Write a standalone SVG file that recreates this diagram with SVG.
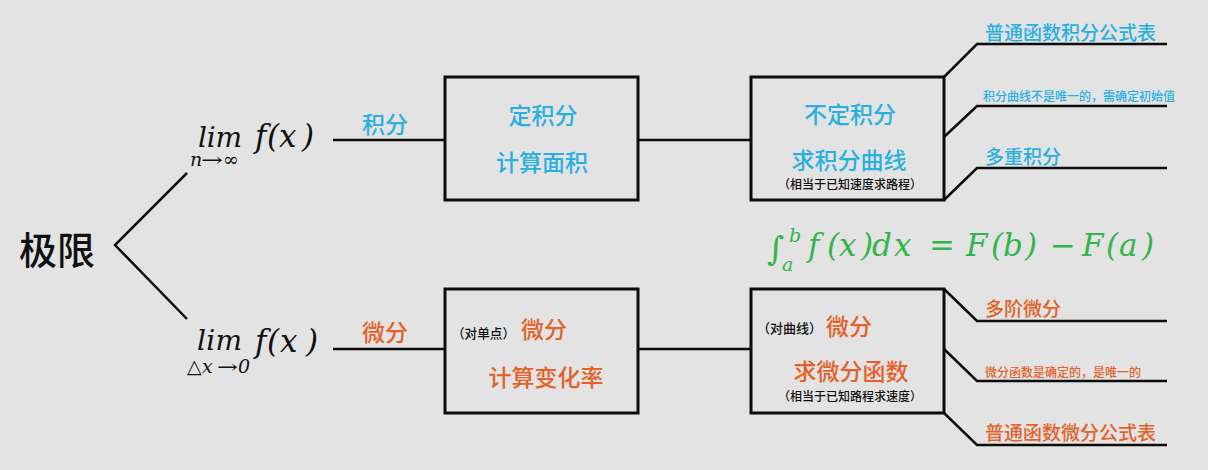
<svg xmlns="http://www.w3.org/2000/svg" width="1208" height="470" viewBox="0 0 1208 470">
<style>
.cjk{font-family:"Noto Sans CJK SC","Noto Sans",sans-serif}
.m{font-weight:500}
.blue{fill:#29b0df}
.org{fill:#e2622a}
.grn{fill:#33b54c}
.blk{fill:#111}
.math{font-family:"DejaVu Serif","Liberation Serif",serif;font-style:italic}
.ln{fill:none;stroke:#0d0d0d;stroke-width:2.5;stroke-linejoin:miter}
.box{fill:none;stroke:#0d0d0d;stroke-width:3}
</style>
<rect width="1208" height="470" fill="#e3e3e3"/>
<g id="connectors">
<polyline class="ln" points="187,173 115,245 187,319"/>
<line class="ln" x1="333" y1="140" x2="445" y2="140"/>
<line class="ln" x1="638" y1="140" x2="751" y2="140"/>
<line class="ln" x1="333" y1="349" x2="445" y2="349"/>
<line class="ln" x1="638" y1="349" x2="751" y2="349"/>
<polyline class="ln" points="944,77 977,44 1167,44"/>
<polyline class="ln" points="944,137 977,106 1167,106"/>
<polyline class="ln" points="944,200 977,168 1167,168"/>
<polyline class="ln" points="944,289 977,321 1167,321"/>
<polyline class="ln" points="944,349 977,381 1167,381"/>
<polyline class="ln" points="944,413 977,445 1167,445"/>
</g>
<g id="root">
<text class="cjk blk m" x="57" y="264" font-size="38" text-anchor="middle">极限</text>
</g>
<g id="lim-top">
<text class="math blk" x="198" y="147" font-size="28" textLength="44" lengthAdjust="spacing">lim</text>
<text class="math blk" x="255 267 279 302" y="147" font-size="31">f(x)</text>
<text class="math blk" x="190" y="166" font-size="19">n</text>
<text class="math blk" x="201" y="166" font-size="18" textLength="22" lengthAdjust="spacingAndGlyphs">→</text>
<text class="math blk" x="223" y="166" font-size="19">∞</text>
</g>
<g id="lim-bottom">
<text class="math blk" x="197" y="350" font-size="28" textLength="45" lengthAdjust="spacing">lim</text>
<text class="math blk" x="255 267 280 306" y="352" font-size="31">f(x)</text>
<text class="math blk" x="187 202" y="373" font-size="19">△x</text>
<text class="math blk" x="217" y="373" font-size="18" textLength="21" lengthAdjust="spacingAndGlyphs">→</text>
<text class="math blk" x="238" y="373" font-size="19">0</text>
</g>
<g id="label-jifen">
<text class="cjk blue m" x="385" y="133" font-size="23" text-anchor="middle">积分</text>
</g>
<g id="label-weifen">
<text class="cjk org m" x="385" y="341" font-size="23" text-anchor="middle">微分</text>
</g>
<g id="box-definite">
<rect class="box" x="445" y="77" width="193" height="123"/>
<text class="cjk blue m" x="543" y="124" font-size="23" text-anchor="middle">定积分</text>
<text class="cjk blue m" x="542" y="171" font-size="23" text-anchor="middle">计算面积</text>
</g>
<g id="box-indefinite">
<rect class="box" x="751" y="77" width="193" height="123"/>
<text class="cjk blue m" x="850" y="123" font-size="23" text-anchor="middle">不定积分</text>
<text class="cjk blue m" x="849" y="169" font-size="23" text-anchor="middle">求积分曲线</text>
<text class="cjk blk m" x="850" y="189" font-size="12" text-anchor="middle">（相当于已知速度求路程）</text>
</g>
<g id="box-point-diff">
<rect class="box" x="445" y="289" width="193" height="124"/>
<text class="cjk blk m" x="452" y="338" font-size="13" textLength="63" lengthAdjust="spacingAndGlyphs">（对单点）</text>
<text class="cjk org m" x="521" y="338" font-size="23">微分</text>
<text class="cjk org m" x="546" y="386" font-size="23" text-anchor="middle">计算变化率</text>
</g>
<g id="box-curve-diff">
<rect class="box" x="751" y="289" width="193" height="124"/>
<text class="cjk blk m" x="757" y="333" font-size="13" textLength="65" lengthAdjust="spacingAndGlyphs">（对曲线）</text>
<text class="cjk org m" x="826" y="335" font-size="23">微分</text>
<text class="cjk org m" x="851" y="380" font-size="23" text-anchor="middle">求微分函数</text>
<text class="cjk blk m" x="850" y="401" font-size="12" text-anchor="middle">（相当于已知路程求速度）</text>
</g>
<g id="leaf-int-table">
<text class="cjk blue m" x="985" y="40" font-size="19">普通函数积分公式表</text>
</g>
<g id="leaf-int-curve">
<text class="cjk blue m" x="983" y="101" font-size="12">积分曲线不是唯一的，需确定初始值</text>
</g>
<g id="leaf-multi-int">
<text class="cjk blue m" x="985" y="164" font-size="19">多重积分</text>
</g>
<g id="leaf-high-diff">
<text class="cjk org m" x="985" y="316" font-size="19">多阶微分</text>
</g>
<g id="leaf-diff-unique">
<text class="cjk org m" x="985" y="377" font-size="12">微分函数是确定的，是唯一的</text>
</g>
<g id="leaf-diff-table">
<text class="cjk org m" x="985" y="440" font-size="19">普通函数微分公式表</text>
</g>
<g id="formula">
<text class="math grn" x="767" y="260" font-size="33">∫</text>
<text class="math grn" x="789" y="242" font-size="19">b</text>
<text class="math grn" x="782" y="271" font-size="19">a</text>
<text class="math grn" x="808 827 839 861 872 894 929 966 991 1003 1025 1050 1082 1106 1119 1142" y="256" font-size="31">f(x)dx=F(b)−F(a)</text>
</g>
</svg>
